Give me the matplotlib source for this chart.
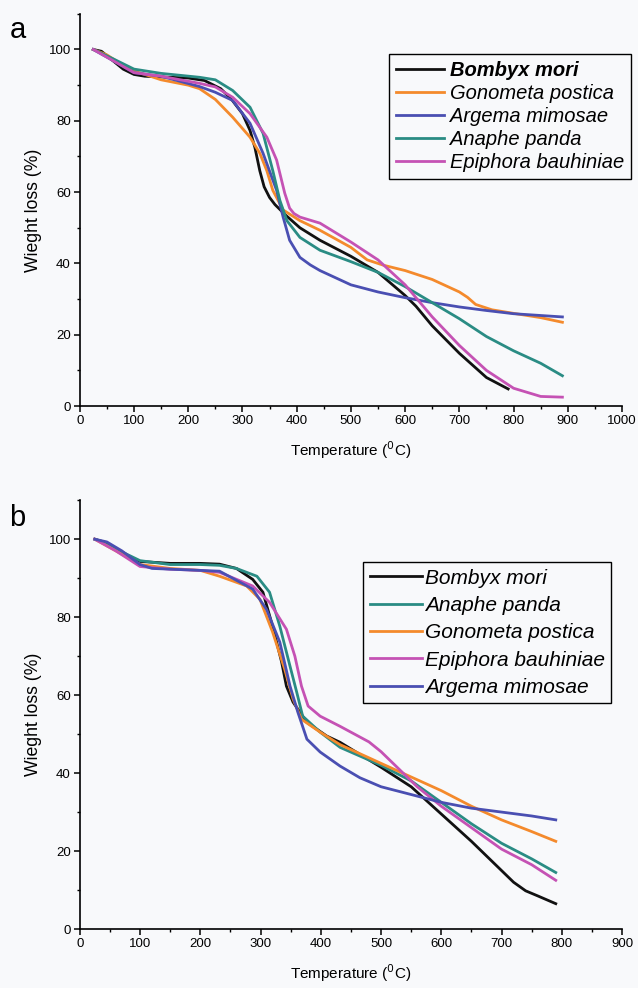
import matplotlib
matplotlib.use('Agg')
from matplotlib import pyplot as plt
from matplotlib.ticker import MultipleLocator

plt.rcParams['font.family'] = ['Liberation Sans', 'DejaVu Sans']

# ---- panel a data (temperature, weight %) ----
a_bm_t = [25, 40, 60, 80, 100, 120, 150, 200, 230, 260, 280, 300, 314, 323, 332, 340, 350, 360, 380, 406, 443, 500, 550, 600, 620, 650, 700, 750, 790]
a_bm_w = [100, 99.5, 97, 94.5, 93, 92.5, 92.3, 92, 91.3, 89, 86, 82, 77.3, 72.5, 66, 61.5, 58.5, 56.5, 53.5, 50, 46.5, 42, 37.5, 31, 28, 22.5, 14.8, 8, 4.8]
a_gp_t = [25, 50, 75, 100, 150, 200, 221, 250, 282, 314, 332, 345, 356, 375, 406, 443, 500, 530, 560, 600, 650, 700, 715, 730, 760, 800, 850, 890]
a_gp_w = [100, 98.5, 96, 94, 91.5, 90, 89, 86, 81, 75.4, 70.9, 66, 60.5, 55, 52, 49.3, 44.5, 41, 39.5, 38, 35.5, 32, 30.5, 28.5, 27, 26, 24.8, 23.5]
a_am_t = [25, 60, 100, 150, 221, 250, 282, 314, 338, 363, 375, 387, 406, 425, 443, 500, 550, 600, 650, 700, 750, 800, 890]
a_am_w = [100, 97, 93.5, 92.5, 89.6, 88, 85.7, 79.3, 70.9, 60.5, 53, 46.5, 41.7, 39.6, 38, 34, 32, 30.4, 29, 27.8, 26.8, 25.9, 25]
a_ap_t = [25, 60, 100, 150, 221, 250, 282, 314, 338, 356, 369, 382, 406, 443, 500, 550, 600, 650, 700, 750, 800, 850, 890]
a_ap_w = [100, 97.5, 94.5, 93.3, 92.2, 91.5, 88.5, 83.8, 76.5, 66, 57.7, 52, 47.3, 43.7, 40.5, 37.5, 33.5, 29, 24.5, 19.5, 15.5, 12, 8.5]
a_eb_t = [25, 60, 100, 150, 221, 250, 282, 314, 345, 363, 378, 387, 395, 406, 443, 500, 550, 600, 650, 700, 750, 800, 850, 890]
a_eb_w = [100, 97, 93.5, 92.5, 90.5, 89.5, 86.6, 82, 75.4, 69, 59.7, 55.5, 54, 53, 51.3, 46, 41, 34, 25, 17, 10, 5, 2.7, 2.5]

# ---- panel b data ----
b_bm_t = [25, 40, 60, 80, 100, 150, 200, 232, 260, 287, 304, 320, 335, 343, 354, 377, 410, 432, 500, 550, 600, 650, 700, 720, 740, 760, 790]
b_bm_w = [100, 99.3, 97.5, 95.5, 94.3, 93.8, 93.8, 93.6, 92.5, 89.7, 86.4, 77.7, 68.5, 62.3, 58.2, 53, 49.5, 47.9, 41.5, 36.5, 29.5, 22.5, 15, 12, 9.8, 8.5, 6.5]
b_ap_t = [25, 60, 100, 150, 200, 232, 260, 294, 315, 332, 349, 360, 370, 399, 432, 500, 550, 600, 650, 700, 750, 790]
b_ap_w = [100, 97.5, 94.5, 93.5, 93.5, 93.3, 92.5, 90.5, 86.4, 77.7, 67.4, 60.8, 54.6, 50.5, 46.6, 42, 38, 32.5, 27, 22, 18, 14.5]
b_gp_t = [25, 60, 100, 150, 200, 232, 277, 299, 320, 340, 354, 368, 399, 432, 500, 550, 600, 650, 700, 750, 790]
b_gp_w = [100, 97, 93.5, 92.5, 92, 90.5, 88, 84.6, 76.2, 66.7, 59, 53.8, 50.5, 47.3, 42.5, 39, 35.5, 31.5, 28, 25, 22.5]
b_eb_t = [25, 60, 100, 150, 200, 232, 287, 315, 343, 357, 368, 379, 399, 432, 480, 500, 530, 560, 600, 650, 700, 750, 790]
b_eb_w = [100, 97, 93, 92.3, 92, 91.5, 88, 83.8, 76.9, 70, 62.3, 57.2, 54.6, 52, 48, 45.5, 41, 36.5, 31.5, 26, 20.5, 16.5, 12.5]
b_am_t = [25, 45, 70, 100, 120, 200, 232, 287, 310, 332, 349, 362, 377, 399, 432, 465, 500, 550, 600, 650, 700, 750, 790]
b_am_w = [100, 99.3, 97, 93.5, 92.5, 92, 91.8, 87.2, 82, 73.6, 62.3, 55.6, 48.7, 45.4, 41.8, 38.8, 36.5, 34.5, 32.5, 31, 30, 29, 28]

c_black = '#111111'
c_orange = '#f48a2c'
c_blue = '#4a4fb2'
c_teal = '#2a8c84'
c_mag = '#c552b4'

bg = '#f8f9fb'
fig = plt.figure(figsize=(6.38, 9.88), dpi=100, facecolor=bg)
ax1 = fig.add_axes([0.125, 0.589, 0.85, 0.397], facecolor=bg)
ax2 = fig.add_axes([0.125, 0.0597, 0.85, 0.434], facecolor=bg)

lw = 2.0
ax1.plot(a_bm_t, a_bm_w, color=c_black, lw=lw, label='Bombyx mori')
ax1.plot(a_gp_t, a_gp_w, color=c_orange, lw=lw, label='Gonometa postica')
ax1.plot(a_am_t, a_am_w, color=c_blue, lw=lw, label='Argema mimosae')
ax1.plot(a_ap_t, a_ap_w, color=c_teal, lw=lw, label='Anaphe panda')
ax1.plot(a_eb_t, a_eb_w, color=c_mag, lw=lw, label='Epiphora bauhiniae')

ax2.plot(b_bm_t, b_bm_w, color=c_black, lw=lw, label='Bombyx mori')
ax2.plot(b_ap_t, b_ap_w, color=c_teal, lw=lw, label='Anaphe panda')
ax2.plot(b_gp_t, b_gp_w, color=c_orange, lw=lw, label='Gonometa postica')
ax2.plot(b_eb_t, b_eb_w, color=c_mag, lw=lw, label='Epiphora bauhiniae')
ax2.plot(b_am_t, b_am_w, color=c_blue, lw=lw, label='Argema mimosae')

for ax, xmax in ((ax1, 1000), (ax2, 900)):
    ax.set_xlim(0, xmax)
    ax.set_ylim(0, 110)
    ax.spines['top'].set_visible(False)
    ax.spines['right'].set_visible(False)
    for s in ('left', 'bottom'):
        ax.spines[s].set_linewidth(1.2)
    ax.xaxis.set_major_locator(MultipleLocator(100))
    ax.xaxis.set_minor_locator(MultipleLocator(50))
    ax.yaxis.set_major_locator(MultipleLocator(20))
    ax.yaxis.set_minor_locator(MultipleLocator(10))
    ax.tick_params(which='major', length=4.5, width=1.1, labelsize=9.5, pad=2)
    ax.tick_params(which='minor', length=2.5, width=1.0)
    ax.set_xlabel('Temperature ($^0$C)', fontsize=11, labelpad=9)
    ax.set_ylabel('Wieght loss (%)', fontsize=12.7, labelpad=5)

leg1 = ax1.legend(loc='upper right', bbox_to_anchor=(1.017, 0.898), fancybox=False,
                  edgecolor='black', framealpha=1, facecolor=bg, handlelength=2.4,
                  handletextpad=0.3, borderpad=0.35, labelspacing=0.2,
                  borderaxespad=0, prop={'style': 'italic', 'size': 14.5})
leg1.get_texts()[0].set_fontweight('bold')
leg1.get_frame().set_linewidth(1.0)

leg2 = ax2.legend(loc='upper right', bbox_to_anchor=(0.98, 0.855), fancybox=False,
                  edgecolor='black', framealpha=1, facecolor=bg, handlelength=2.5,
                  handletextpad=0.15, borderpad=0.3, labelspacing=0.4,
                  borderaxespad=0, prop={'style': 'italic', 'size': 15})
leg2.get_frame().set_linewidth(1.0)

fig.text(0.015, 0.962, 'a', fontsize=21)
fig.text(0.015, 0.468, 'b', fontsize=21)

fig.savefig('out.png', dpi=100, facecolor=bg)
